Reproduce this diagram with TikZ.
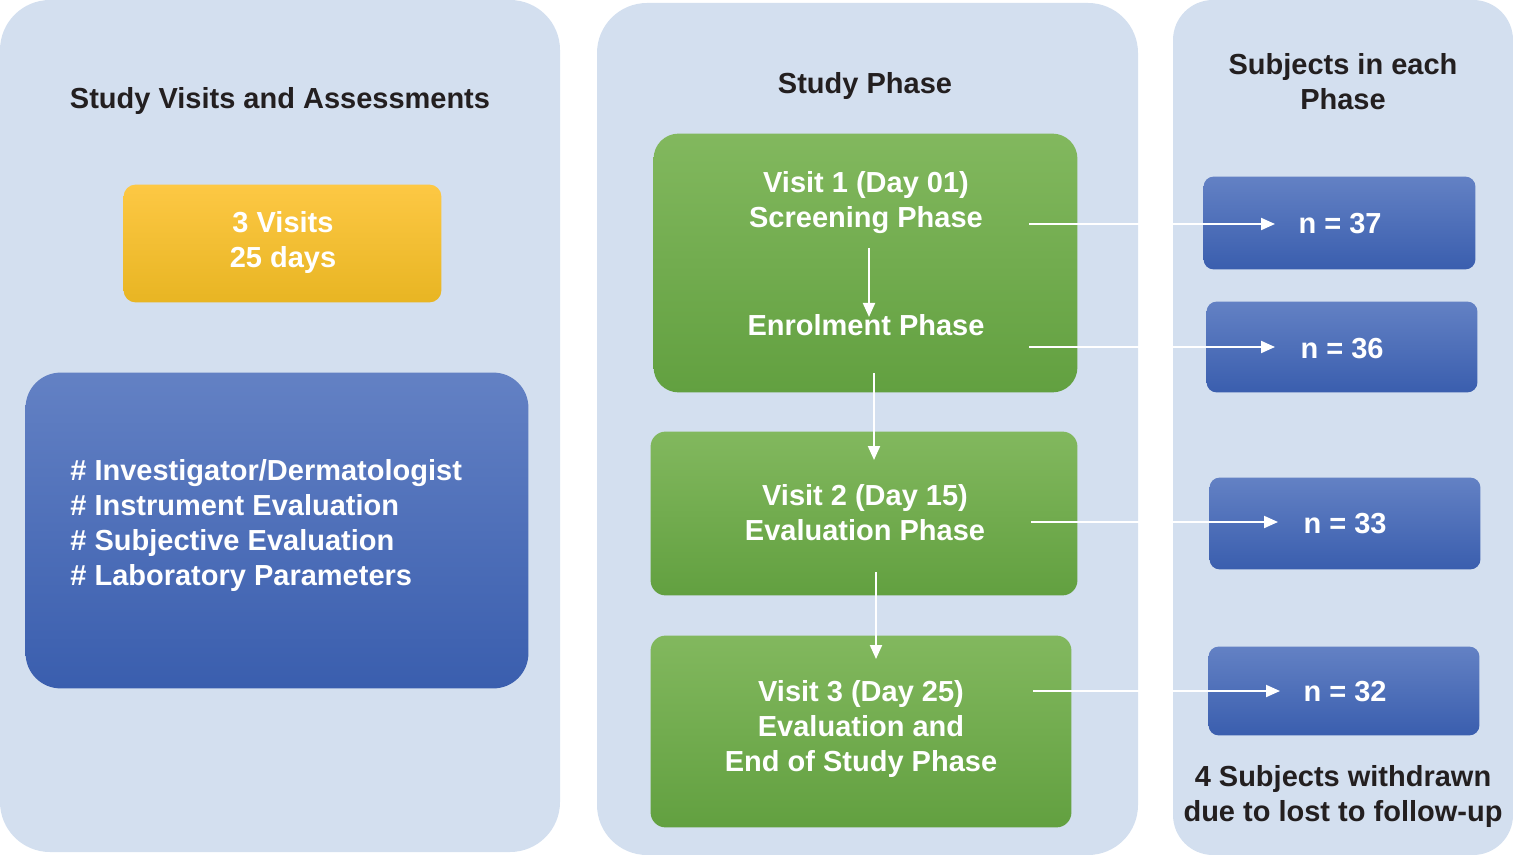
\documentclass[tikz,border=0pt]{standalone}
\usepackage{fontspec}
\setmainfont{Liberation Sans}
\usetikzlibrary{arrows.meta}
\definecolor{panel}{HTML}{D3DFEF}
\definecolor{headtxt}{HTML}{231F20}
\definecolor{yelT}{HTML}{FDC844}
\definecolor{yelM}{HTML}{FFC60B}
\definecolor{yelB}{HTML}{E8B523}
\definecolor{bluT}{HTML}{6381C4}
\definecolor{bluM}{HTML}{4B6DB9}
\definecolor{bluB}{HTML}{3A5EAE}
\definecolor{grnT}{HTML}{82B85E}
\definecolor{grnM}{HTML}{6DB040}
\definecolor{grnB}{HTML}{62A040}
\tikzset{
  panelbox/.style={fill=panel, draw=none, rounded corners=25pt, inner sep=0pt},
  frame/.style={draw=none, inner sep=0pt},
  yelfill/.style={top color=yelT, middle color=yelM, bottom color=yelB},
  blufill/.style={top color=bluT, middle color=bluM, bottom color=bluB},
  grnfill/.style={top color=grnT, middle color=grnM, bottom color=grnB},
  headtext/.style={text=headtxt, font=\fontsize{14.5pt}{17.5pt}\selectfont\bfseries, align=center, inner sep=0pt},
  whitetext/.style={text=white, font=\fontsize{14.5pt}{17.5pt}\selectfont\bfseries, align=center, inner sep=0pt},
  flow/.style={draw=white, line width=1pt, -{Triangle[length=7pt,width=6pt]}},
}
\newcommand\roundshade[3]{\shade[#3, rounded corners=#2] (#1.west) |- (#1.north east) |- (#1.south west) -- cycle;}
\begin{document}
\begin{tikzpicture}[x=0.5pt,y=-0.5pt]
\useasboundingbox (0,0) rectangle (1513,855);
% panels
\node[panelbox, minimum width=280pt, minimum height=426pt] (p1) at (280,426) {};
\node[panelbox, minimum width=270.5pt, minimum height=426pt] (p2) at (867.5,429) {};
\node[panelbox, minimum width=170pt, minimum height=427.5pt, rounded corners=20pt] (p3) at (1343,427.5) {};
% headings
\node[headtext] (h1) at (280,101) {Study Visits and Assessments};
\node[headtext] (h2) at (865,86) {Study Phase};
\node[headtext] (h3) at (1343,82) {Subjects in each\\Phase};
% left column
\node[frame, minimum width=158.5pt, minimum height=58.5pt] (yb) at (282.5,243.5) {};
\roundshade{yb}{6pt}{yelfill}
\node[whitetext] (yt) at (283,243) {3 Visits\\25 days};
\node[frame, minimum width=251pt, minimum height=157.5pt] (bb) at (277,530.5) {};
\roundshade{bb}{17.5pt}{blufill}
\node[whitetext, align=left, anchor=west] (bt) at (70,525.5) {\# Investigator/Dermatologist\\\# Instrument Evaluation\\\# Subjective Evaluation\\\# Laboratory Parameters};
% green boxes
\node[frame, minimum width=211.5pt, minimum height=129pt] (g1) at (865.5,263) {};
\roundshade{g1}{12.5pt}{grnfill}
\node[frame, minimum width=213pt, minimum height=81.5pt] (g2) at (864,513.5) {};
\roundshade{g2}{7.5pt}{grnfill}
\node[frame, minimum width=210pt, minimum height=95.5pt] (g3) at (861,731.5) {};
\roundshade{g3}{7.5pt}{grnfill}
\node[whitetext] (g1t) at (866,203) {Visit 1 (Day 01)\\Screening Phase};
\node[whitetext] (g1e) at (866,325) {Enrolment Phase};
\node[whitetext] (g2t) at (865,513) {Visit 2 (Day 15)\\Evaluation Phase};
\node[whitetext] (g3t) at (861,729) {Visit 3 (Day 25)\\Evaluation and\\End of Study Phase};
% subject boxes
\node[frame, minimum width=135.5pt, minimum height=46pt] (n1) at (1339.5,223) {};
\roundshade{n1}{5pt}{blufill}
\node[frame, minimum width=135pt, minimum height=45pt] (n2) at (1342,347) {};
\roundshade{n2}{5pt}{blufill}
\node[frame, minimum width=135pt, minimum height=45.5pt] (n3) at (1345,523.5) {};
\roundshade{n3}{5pt}{blufill}
\node[frame, minimum width=135pt, minimum height=44pt] (n4) at (1344,691) {};
\roundshade{n4}{5pt}{blufill}
\node[whitetext] (n1t) at (1340,224) {n = 37};
\node[whitetext] (n2t) at (1342,349) {n = 36};
\node[whitetext] (n3t) at (1345,524) {n = 33};
\node[whitetext] (n4t) at (1345,692) {n = 32};
\node[headtext] (wd) at (1343,796) {4 Subjects withdrawn\\due to lost to follow-up};
% connector coordinates
\coordinate (v1s) at (869,248); \coordinate (v1e) at (869,317);
\coordinate (v2s) at (874,373); \coordinate (v2e) at (874,460);
\coordinate (v3s) at (876,572); \coordinate (v3e) at (876,659);
\coordinate (h1s) at (1029,224); \coordinate (h1e) at (1275,224);
\coordinate (h2s) at (1029,347); \coordinate (h2e) at (1275,347);
\coordinate (h3s) at (1031,522); \coordinate (h3e) at (1278,522);
\coordinate (h4s) at (1033,691); \coordinate (h4e) at (1280,691);
\draw[flow] (v1s) -- (v1e);
\draw[flow] (v2s) -- (v2e);
\draw[flow] (v3s) -- (v3e);
\draw[flow] (h1s) -- (h1e);
\draw[flow] (h2s) -- (h2e);
\draw[flow] (h3s) -- (h3e);
\draw[flow] (h4s) -- (h4e);
\end{tikzpicture}
\end{document}
